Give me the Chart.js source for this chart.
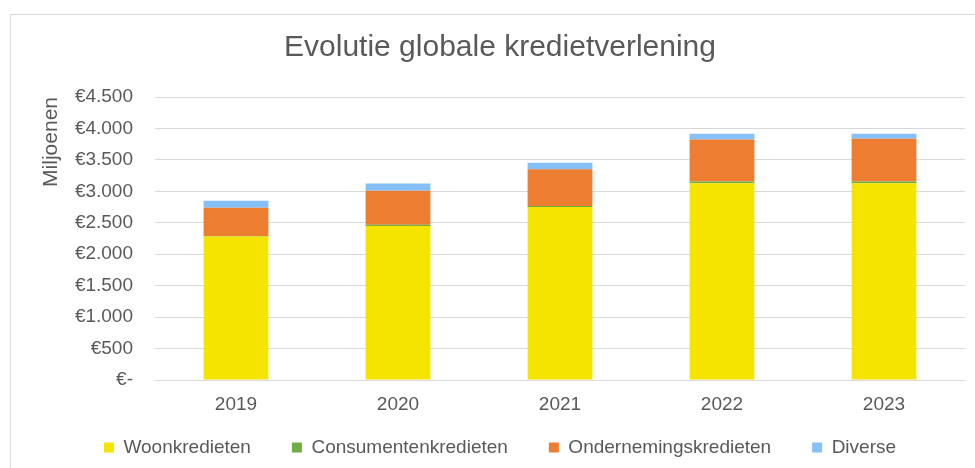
<!DOCTYPE html>
<html lang="nl">
<head>
    <meta charset="UTF-8">
    <title>Evolutie globale kredietverlening</title>
    <script src="https://cdn.jsdelivr.net/npm/chart.js@4.4.0/dist/chart.umd.min.js"></script>
    <style>
        html, body { margin: 0; padding: 0; background: #ffffff; }
        .container { width: 975px; height: 468px; position: relative; }
    </style>
</head>
<body>
    <div class="container">
        <canvas id="myChart"></canvas>
    </div>
    <script>
    var years = ["2019", "2020", "2021", "2022", "2023"];
    var woonkredieten = [2280, 2450, 2750, 3130, 3130];
    var consumentenkredieten = [10, 20, 15, 25, 25];
    var ondernemingskredieten = [450, 540, 585, 670, 680];
    var diverse = [110, 115, 105, 90, 80];
    var yTicks = [0, 500, 1000, 1500, 2000, 2500, 3000, 3500, 4000, 4500];

    var textColor = '#595959';
    var gridColor = '#d9d9d9';
    var fontFamily = 'Liberation Sans, Arial, sans-serif';

    // grey frame round the chart, like the Excel chart area
    var framePlugin = {
        id: 'frame',
        beforeDraw: function (chart) {
            var ctx = chart.ctx;
            ctx.save();
            ctx.fillStyle = '#ffffff';
            ctx.fillRect(0, 0, chart.width, chart.height);
            ctx.strokeStyle = gridColor;
            ctx.lineWidth = 1;
            ctx.strokeRect(10.5, 14.5, chart.width + 20, chart.height + 20);
            ctx.restore();
        }
    };

    function euro(v) {
        if (v === 0) return '€-';
        return '€' + v.toString().replace(/\B(?=(\d{3})+(?!\d))/g, '.');
    }

    var ctx = document.getElementById('myChart').getContext('2d');
    var myChart = new Chart(ctx, {
        type: 'bar',
        data: {
            labels: years,
            datasets: [{
                label: 'Woonkredieten',
                backgroundColor: '#f5e400',
                data: woonkredieten
            }, {
                label: 'Consumentenkredieten',
                backgroundColor: '#70ad47',
                data: consumentenkredieten
            }, {
                label: 'Ondernemingskredieten',
                backgroundColor: '#ed7d31',
                data: ondernemingskredieten
            }, {
                label: 'Diverse',
                backgroundColor: '#85c0f9',
                data: diverse
            }]
        },
        plugins: [framePlugin],
        options: {
            responsive: true,
            maintainAspectRatio: false,
            animation: false,
            devicePixelRatio: 1,
            layout: {
                padding: { left: 35, right: 10, top: 14, bottom: 1 }
            },
            datasets: {
                bar: { barPercentage: 0.4, categoryPercentage: 1.0 }
            },
            plugins: {
                title: {
                    display: true,
                    text: 'Evolutie globale kredietverlening',
                    color: textColor,
                    font: { size: 30, weight: 'normal', family: fontFamily },
                    padding: { top: 16, bottom: 31 }
                },
                legend: {
                    position: 'bottom',
                    labels: {
                        boxWidth: 10,
                        boxHeight: 10,
                        padding: 41,
                        color: textColor,
                        font: { size: 19, family: fontFamily }
                    }
                },
                tooltip: { enabled: false }
            },
            scales: {
                x: {
                    stacked: true,
                    grid: { display: false, drawTicks: false },
                    border: { display: false },
                    // legend keeps its own top padding, so the axis box stays short
                    // and the labels must not be clipped to it
                    afterFit: function (scale) {
                        scale.height = 17;
                        scale._computeLabelArea = function () { return undefined; };
                    },
                    ticks: {
                        color: textColor,
                        padding: 13,
                        font: { size: 19, family: fontFamily }
                    }
                },
                y: {
                    stacked: true,
                    min: 0,
                    max: 4500,
                    afterBuildTicks: function (scale) {
                        scale.ticks = yTicks.map(function (v) { return { value: v }; });
                    },
                    afterFit: function (scale) {
                        scale.width = 120;
                    },
                    grid: { color: gridColor, drawTicks: false },
                    border: { display: false },
                    title: {
                        display: true,
                        text: 'Miljoenen',
                        align: 'end',
                        color: textColor,
                        font: { size: 21, family: fontFamily },
                        padding: { top: 4, bottom: 0 }
                    },
                    ticks: {
                        color: textColor,
                        padding: 22,
                        font: { size: 19, family: fontFamily },
                        callback: function (value) { return euro(value); }
                    }
                }
            }
        }
    });
    </script>
</body>
</html>
